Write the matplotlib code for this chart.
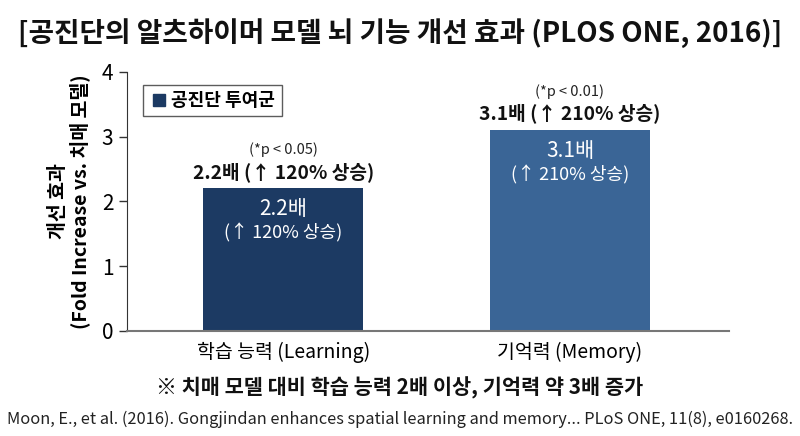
import matplotlib
matplotlib.use('Agg')
import matplotlib.pyplot as plt
from matplotlib.lines import Line2D

plt.rcParams['font.family'] = ['Noto Sans CJK KR', 'DejaVu Sans']

# 데이터
categories = ['학습 능력 (Learning)', '기억력 (Memory)']
values = [2.2, 3.1]
top_labels = ['2.2배 (↑ 120% 상승)', '3.1배 (↑ 210% 상승)']
p_labels = ['(*p < 0.05)', '(*p < 0.01)']
inner_main = ['2.2배', '3.1배']
inner_sub = ['(↑ 120% 상승)', '(↑ 210% 상승)']
bar_colors = ['#1c3a63', '#3a6596']
y_ticks = [0, 1, 2, 3, 4]

fig = plt.figure(figsize=(8, 4.36), dpi=100)
ax = fig.add_axes([0.159, 0.241, 0.752, 0.594])

x = list(range(len(categories)))
ax.bar(x, values, width=0.56, color=bar_colors)

for i, v in enumerate(values):
    ax.annotate(top_labels[i], (x[i], v), xytext=(0, 12), textcoords='offset points',
                ha='center', va='center', fontsize=13.8, fontweight='bold', color='#111111')
    ax.annotate(p_labels[i], (x[i], v), xytext=(0, 28), textcoords='offset points',
                ha='center', va='center', fontsize=10.5, color='#222222')
    ax.annotate(inner_main[i], (x[i], v), xytext=(0, -15), textcoords='offset points',
                ha='center', va='center', fontsize=15, color='white')
    ax.annotate(inner_sub[i], (x[i], v), xytext=(0, -32), textcoords='offset points',
                ha='center', va='center', fontsize=13, color='white')

ax.set_xlim(-0.544, 1.554)
ax.set_ylim(0, 4)
ax.set_yticks(y_ticks)
ax.set_yticklabels([str(t) for t in y_ticks], fontsize=15)
ax.set_xticks(x)
ax.set_xticklabels(categories, fontsize=14)
ax.tick_params(axis='x', length=0, pad=8)
ax.tick_params(axis='y', length=6, width=1, color='#333333', pad=4)

ax.spines['top'].set_visible(False)
ax.spines['right'].set_visible(False)
ax.spines['left'].set_color('#333333')
ax.spines['bottom'].set_color('#777777')
ax.spines['bottom'].set_linewidth(1.5)

ax.set_ylabel('개선 효과\n(Fold Increase vs. 치매 모델)', fontsize=14, fontweight='bold', labelpad=8, linespacing=1.1)

handle = Line2D([], [], marker='s', linestyle='none', markersize=9, color=bar_colors[0])
leg = ax.legend([handle], ['공진단 투여군'], loc='upper left', bbox_to_anchor=(0.012, 0.985),
                fancybox=False, edgecolor='#333333', handletextpad=0.2,
                borderpad=0.35, handlelength=1.0, prop={'weight': 'bold', 'size': 13})
leg.get_frame().set_linewidth(1.0)

fig.text(0.5, 0.925, '[공진단의 알츠하이머 모델 뇌 기능 개선 효과 (PLOS ONE, 2016)]',
         ha='center', va='center', fontsize=20, fontweight='bold', color='#111111')
fig.text(0.5, 0.11, '※ 치매 모델 대비 학습 능력 2배 이상, 기억력 약 3배 증가',
         ha='center', va='center', fontsize=15, fontweight='bold', color='#111111')
fig.text(0.5, 0.037, 'Moon, E., et al. (2016). Gongjindan enhances spatial learning and memory... PLoS ONE, 11(8), e0160268.',
         ha='center', va='center', fontsize=11.8, color='#222222')

fig.savefig('out.png', dpi=100)
